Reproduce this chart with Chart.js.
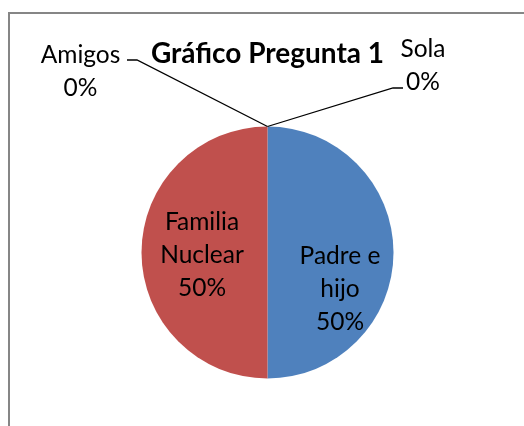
<!DOCTYPE html>
<html>
<head>
<meta charset="utf-8">
<script src="https://cdn.jsdelivr.net/npm/chart.js@4/dist/chart.umd.min.js"></script>
<style>
  html, body { margin: 0; padding: 0; background: #ffffff; }
  canvas { display: block; }
</style>
</head>
<body>
<canvas id="c" width="524" height="426"></canvas>
<script>
// ---- data ----
const categories = ["Sola", "Padre e hijo", "Familia Nuclear", "Amigos"];
const values = [0, 50, 50, 0];
const sliceColors = ["#4F81BD", "#4F81BD", "#C0504D", "#9BBB59"];
const chartTitle = "Gráfico Pregunta 1";

// ---- label layout (offsets in px) ----
// inside labels: offset of the middle line's baseline from the pie centre
// outside labels: offsets from the slice's start point on the rim
const labelLayout = {
  "Padre e hijo":    { inside: true, dx: 72.5, dy: 44.5 },
  "Familia Nuclear": { inside: true, dx: -65.5, dy: 10.5 },
  "Sola":   { inside: false, dx: 155.5, dy: -53.5, ex: 125.5, ey: -38.5, sx: 135.5 },
  "Amigos": { inside: false, dx: -187, dy: -47.5, ex: -130.5, ey: -66.5, sx: -140.5 }
};

function wrapText(ctx, text, maxWidth) {
  const words = text.split(" ");
  const lines = [];
  let cur = "";
  for (const w of words) {
    const test = cur ? cur + " " + w : w;
    if (cur && ctx.measureText(test).width > maxWidth) {
      lines.push(cur);
      cur = w;
    } else {
      cur = test;
    }
  }
  if (cur) lines.push(cur);
  return lines;
}

const frameAndLabels = {
  id: "frameAndLabels",
  beforeDraw(chart) {
    const ctx = chart.ctx;
    ctx.save();
    ctx.fillStyle = "#ffffff";
    ctx.fillRect(0, 0, chart.width, chart.height);
    ctx.strokeStyle = "#868686";
    ctx.lineWidth = 2;
    ctx.strokeRect(9, 13, 700, 700);
    ctx.restore();
  },
  afterDatasetsDraw(chart) {
    const ctx = chart.ctx;
    const meta = chart.getDatasetMeta(0);
    const data = chart.data.datasets[0].data;
    const total = data.reduce((a, b) => a + b, 0);
    const lh = 33;
    ctx.save();
    ctx.font = "24.5px Lato";
    ctx.fillStyle = "#000000";
    ctx.textAlign = "center";
    ctx.textBaseline = "alphabetic";
    meta.data.forEach((arc, i) => {
      const name = chart.data.labels[i];
      const lay = labelLayout[name];
      if (!lay) return;
      const pct = Math.round(data[i] / total * 100) + "%";
      const lines = wrapText(ctx, name, 100).concat([pct]);
      const p = arc.getProps(["x", "y", "startAngle", "outerRadius"], true);
      let ax, ay;
      if (lay.inside) {
        ax = p.x + lay.dx;
        ay = p.y + lay.dy;
      } else {
        const rx = p.x + Math.cos(p.startAngle) * p.outerRadius;
        const ry = p.y + Math.sin(p.startAngle) * p.outerRadius;
        ax = rx + lay.dx;
        ay = ry + lay.dy;
        ctx.beginPath();
        ctx.strokeStyle = "#000000";
        ctx.lineWidth = 1.3;
        ctx.moveTo(rx, ry);
        ctx.lineTo(rx + lay.ex, ry + lay.ey);
        ctx.lineTo(rx + lay.sx, ry + lay.ey);
        ctx.stroke();
      }
      const y0 = ay - (lines.length - 1) / 2 * lh;
      lines.forEach((ln, k) => ctx.fillText(ln, ax, y0 + k * lh));
    });
    ctx.restore();
  }
};

new Chart(document.getElementById("c"), {
  type: "pie",
  data: {
    labels: categories,
    datasets: [{
      data: values,
      backgroundColor: sliceColors,
      borderWidth: 0
    }]
  },
  options: {
    responsive: false,
    animation: false,
    devicePixelRatio: 1,
    layout: { padding: { left: 11, right: 0, top: 36.7, bottom: 47.5 } },
    plugins: {
      legend: { display: false },
      tooltip: { enabled: false },
      title: {
        display: true,
        text: chartTitle,
        color: "#000000",
        font: { family: "Lato", size: 28, weight: "bold", lineHeight: 1.2 },
        padding: { top: 0, bottom: 56.2 }
      }
    }
  },
  plugins: [frameAndLabels]
});
</script>
</body>
</html>
